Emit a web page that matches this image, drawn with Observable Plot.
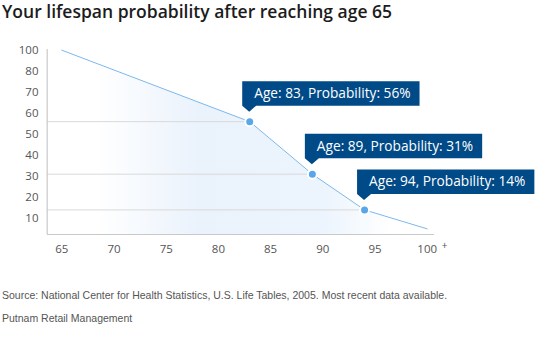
<!DOCTYPE html>
<html>
<head>
<meta charset="utf-8">
<script src="https://cdn.jsdelivr.net/npm/d3@7"></script>
<script src="https://cdn.jsdelivr.net/npm/@observablehq/plot@0.6"></script>
<style>
  body { margin: 0; background: #fff; width: 545px; height: 343px; overflow: hidden; position: relative; font-family: "Open Sans", sans-serif; }
  #title { position: absolute; left: 2px; top: 0; font-size: 17.5px; font-weight: 600; color: #1c1c1c; line-height: 22px; white-space: nowrap; }
  #chart { position: absolute; left: 0; top: 32px; }
  .foot { position: absolute; left: 2px; font-family: "Liberation Sans", Arial, sans-serif; font-size: 10.5px; color: #555; white-space: nowrap; }
</style>
</head>
<body>
<div id="title">Your lifespan probability after reaching age 65</div>
<div id="chart"></div>
<div class="foot" style="top:289px">Source: National Center for Health Statistics, U.S. Life Tables, 2005. Most recent data available.</div>
<div class="foot" style="top:311.5px">Putnam Retail Management</div>
<script>
// Survival curve (age -> probability %)
const ages = [65, 83, 89, 94, 100];
const probs = [100, 56, 31, 14, 5];
// Highlighted points with callouts
const calloutAges = [83, 89, 94];
const calloutProbs = [56, 31, 14];
// Axis ticks
const xTicks = [65, 70, 75, 80, 85, 90, 95, 100];
const yTicks = [10, 20, 30, 40, 50, 60, 70, 80, 100];

const series = ages.map((a, i) => ({age: a, p: probs[i]}));
const callouts = calloutAges.map((a, i) => ({age: a, p: calloutProbs[i]}));
const labelOf = d => `Age: ${d.age}, Probability: ${d.p}%`;

// The original axis compresses 80–100 into one tick step
const squash = v => (v > 80 ? 80 + (v - 80) / 2 : v);
const unsquash = v => (v > 80 ? 80 + (v - 80) * 2 : v);

const xMin = 63.6, xMax = 100.7, yMin = 2.3;
const calloutFont = "500 13.7px 'Open Sans'";

const gradientDefs = () => {
  const svg = d3.create("svg:defs");
  const g = svg.append("linearGradient").attr("id", "lifeGrad")
    .attr("x1", "0").attr("x2", "1").attr("y1", "0").attr("y2", "0");
  [[0, "#ffffff"], [0.1, "#ffffff"], [0.38, "#eaf2fc"], [0.72, "#ecf4fd"], [0.9, "#ffffff"], [1, "#ffffff"]]
    .forEach(([o, c]) => g.append("stop").attr("offset", o).attr("stop-color", c));
  return svg.node();
};

const calloutBoxes = (index, scales) => {
  const ctx = document.createElement("canvas").getContext("2d");
  ctx.font = calloutFont;
  const g = d3.create("svg:g");
  for (const d of callouts) {
    const px = scales.x(d.age), py = scales.y(squash(d.p));
    const w = ctx.measureText(labelOf(d)).width + 21;
    const top = py - 40, bottom = py - 15.5;
    g.append("path")
      .attr("d", `M${px - 7},${top}h${w}V${bottom}H${px + 7}L${px},${bottom + 6}L${px - 7},${bottom}Z`)
      .attr("fill", "#004a87");
  }
  return g.node();
};

const chart = Plot.plot({
  width: 545,
  height: 240,
  marginLeft: 47,
  marginRight: 111,
  marginTop: 17,
  marginBottom: 38,
  style: {fontFamily: "'Open Sans', sans-serif", fontSize: "11.5px", color: "#555", background: "transparent"},
  x: {domain: [xMin, xMax], range: [46.7, 434], label: null},
  y: {domain: [yMin, 90], range: [202, 17.7], transform: squash, label: null},
  marks: [
    gradientDefs,
    Plot.areaY(series, {x: "age", y: "p", y1: yMin, fill: "url(#lifeGrad)"}),
    Plot.ruleY(callouts, {y: "p", x1: xMin, x2: "age", stroke: "#d9d9d9", strokeWidth: 1}),
    Plot.ruleX([xMin], {stroke: "#c9c9c9", strokeWidth: 1.2}),
    Plot.ruleY([yMin], {stroke: "#c9c9c9", strokeWidth: 1.2}),
    Plot.line(series, {x: "age", y: "p", stroke: "#7cb9ee", strokeWidth: 1}),
    Plot.dot(callouts, {x: "age", y: "p", r: 4.5, fill: "#5aa6ea", stroke: "white", strokeWidth: 2}),
    calloutBoxes,
    Plot.text(callouts, {x: "age", y: "p", text: labelOf, textAnchor: "start", dx: 4.5, dy: -28,
      fill: "white", fontSize: 13.7, fontWeight: 500}),
    Plot.axisX({ticks: xTicks, tickSize: 0, tickPadding: 10, tickFormat: d => String(d), label: null}),
    Plot.axisY({ticks: yTicks.map(squash), tickSize: 0, tickPadding: 9, tickFormat: d => String(unsquash(d)), label: null}),
    Plot.text([100], {x: d => d, frameAnchor: "bottom", text: () => "+", dx: 17.5, dy: 14, fontSize: 10, fill: "#555"})
  ]
});
document.getElementById("chart").append(chart);
</script>
</body>
</html>
